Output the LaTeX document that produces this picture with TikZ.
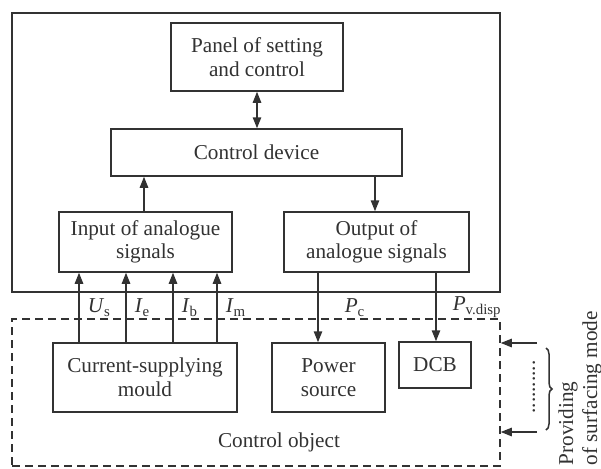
\documentclass[tikz,border=0pt]{standalone}
\usepackage{fontspec}
\setmainfont{Liberation Serif}
\usepackage{tikz}
\usetikzlibrary{positioning,arrows.meta,calc,decorations.pathreplacing}
\definecolor{ink}{RGB}{50,50,50}

\begin{document}
\begin{tikzpicture}[x=0.5pt,y=-0.5pt,
    font=\fontsize{10.6}{11.8}\selectfont,color=ink,line width=0.75pt,
    blk/.style={draw,align=center,inner sep=0pt},
    arr/.style={-{Triangle[length=5.5pt,width=4.2pt]}},
    sig/.style={inner sep=0pt}]
  \useasboundingbox (0,0) rectangle (601,468);
  % control system
  \node[draw,minimum width=244pt,minimum height=139.5pt] (sys) at (256,152.5) {};
  \node[blk,minimum width=86pt,minimum height=34pt] (panel) at (257,57) {Panel of setting\\and control};
  \node[blk,minimum width=145.5pt,minimum height=23.5pt] (ctrl) at (256.5,152.5) {Control device};
  \node[blk,minimum width=86.5pt,minimum height=30pt] (input) at (145.5,242) {Input of analogue\\signals};
  \node[blk,minimum width=92.5pt,minimum height=30pt] (output) at (376.5,242) {Output of\\analogue signals};
  \draw[{Triangle[length=5.5pt,width=4.2pt]}-{Triangle[length=5.5pt,width=4.2pt]}] (panel) -- (panel |- ctrl.north);
  \draw[arr] (input.north -| 144,0) -- (ctrl.south -| 144,0);
  \draw[arr] (ctrl.south -| 375,0) -- (output.north -| 375,0);
  % control object
  \node[draw,dash pattern=on 4pt off 2.5pt,minimum width=244pt,minimum height=73.5pt] (obj) at (256,392.5) {};
  \node[blk,minimum width=92pt,minimum height=34.5pt] (mould) at (145,377.5) {Current-supplying\\mould};
  \node[blk,minimum width=56.5pt,minimum height=34.5pt] (power) at (328.5,377.5) {Power\\source};
  \node[blk,minimum width=36pt,minimum height=23pt] (dcb) at (435,365) {DCB};
  \node (objname) at (279,442) {Control object};
  \foreach \x/\s in {79/{\textit{U}\textsubscript{s}},126/{\textit{I}\textsubscript{e}},
                     173/{\textit{I}\textsubscript{b}},217/{\textit{I}\textsubscript{m}}}
    \draw[arr] (mould.north -| \x,0) -- node[sig,right=4pt] {\s} (input.south -| \x,0);
  \draw[arr] (output.south -| 318,0) -- node[sig,right=13pt] {\textit{P}\textsubscript{c}} (power.north -| 318,0);
  \draw[arr] (output.south -| 436,0) -- node[sig,right=8pt] {\textit{P}\textsubscript{v.disp}} (dcb.north -| 436,0);
  % surfacing mode
  \coordinate (m1) at (537,343);
  \coordinate (m2) at (537,432);
  \draw[arr] (m1) -- (m1 -| obj.east);
  \draw[arr] (m2) -- (m2 -| obj.east);
  \node[rotate=90,inner sep=0pt] (dots) at (534,387) {..........};
  \draw[decorate,decoration={brace,amplitude=3pt}] (546,348) -- (546,430);
  \node[rotate=90,anchor=base west,inner sep=0pt] (prov) at (573,466) {Providing};
  \node[rotate=90,anchor=base west,inner sep=0pt] (mode) at (597,466) {of surfacing mode};
\end{tikzpicture}
\end{document}
